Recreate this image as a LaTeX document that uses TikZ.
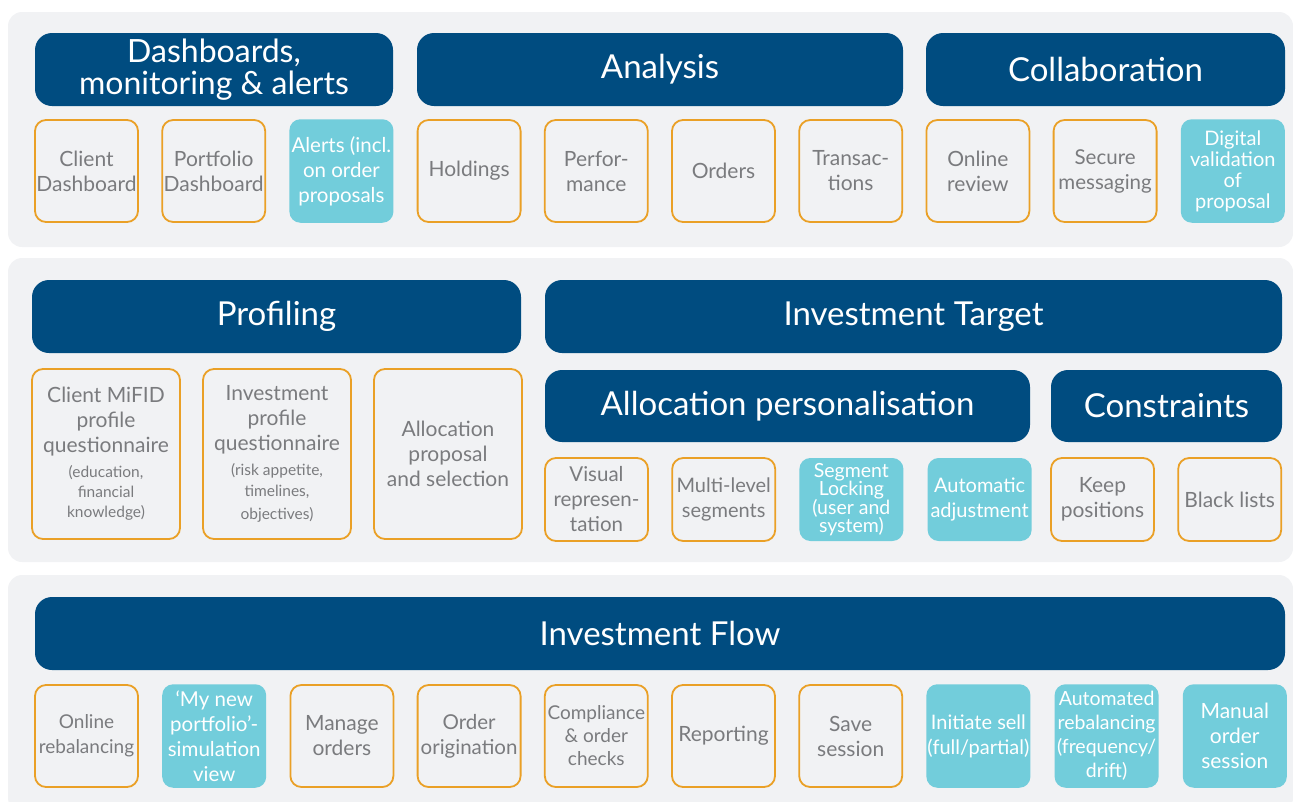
\documentclass[tikz,border=0pt]{standalone}
\usepackage{fontspec}
\setmainfont{Lato}
\usetikzlibrary{positioning}

\definecolor{navy}{RGB}{0,76,128}
\definecolor{amber}{RGB}{234,160,38}
\definecolor{aqua}{RGB}{114,205,219}
\definecolor{panelgray}{RGB}{241,242,244}
\definecolor{txtgray}{RGB}{122,123,126}

\newcommand{\fs}[2]{\fontsize{#1}{#2}\selectfont}
\newcommand{\smalltxt}{\fs{15.5}{20}}

\begin{document}
\begin{tikzpicture}[
  x=1pt,y=-1pt,
  node distance=14pt and 24.2pt,
  panel/.style={fill=panelgray,rounded corners=14pt},
  head/.style={fill=navy,text=white,rounded corners=17pt,align=center,anchor=north west,
    minimum height=73pt,inner sep=2pt,outer sep=0pt,font=\fs{33}{34}},
  item/.style={draw=amber,line width=1.8pt,fill=panelgray,rounded corners=11pt,text=txtgray,
    align=center,minimum width=103pt,minimum height=102pt,inner sep=1pt,outer sep=0pt,font=\fs{21}{25}},
  new/.style={item,draw=none,fill=aqua,text=white,minimum width=104pt,minimum height=103.5pt},
  short/.style={minimum height=83pt},
  tall/.style={minimum width=148pt,minimum height=170pt}
]
\useasboundingbox (0,0) rectangle (1293,801);

% background bands
\fill[panel] (8,12) rectangle (1293,247);
\fill[panel] (8,258) rectangle (1293,562);
\fill[panel] (8,575) rectangle (1293,812);

% --- top band
\node[head,minimum width=358pt,font=\fs{32}{32}] (dash) at (35,33) {Dashboards,\\monitoring \& alerts};
\node[head,minimum width=486pt] (analysis) at (417,33) {Analysis};
\node[head,minimum width=359pt] (collab) at (926,33) {Collaboration};

\node[item,below=14pt of dash.south west,anchor=north west] (clientdash) {Client\\Dashboard};
\node[item,right=of clientdash] (portdash) {Portfolio\\Dashboard};
\node[new,right=of portdash,font=\fs{20.5}{25}] (alerts) {Alerts (incl.\\on order\\proposals};
\node[item,right=of alerts] (holdings) {Holdings};
\node[item,right=of holdings] (perf) {Perfor-\\mance};
\node[item,right=of perf] (orders) {Orders};
\node[item,right=of orders] (trans) {Transac-\\tions};
\node[item,right=of trans] (review) {Online\\review};
\node[item,right=of review,font=\fs{20.5}{25}] (messaging) {Secure\\messaging};
\node[new,right=of messaging,font=\fs{20}{21}] (validation) {Digital\\validation\\of\\proposal};

% --- middle band
\node[head,minimum width=489pt] (profiling) at (32,280) {Profiling};
\node[head,minimum width=737pt] (target) at (545,280) {Investment Target};
\node[head,minimum width=485pt,minimum height=72pt] (alloc) at (545,370) {Allocation personalisation};
\node[head,minimum width=231pt,minimum height=72pt] (constr) at (1051,370) {Constraints};

\node[item,tall,below=16pt of profiling.south west,anchor=north west] (mifid)
  {Client MiFID\\profile\\questionnaire\\\smalltxt (education,\\[-5pt]\smalltxt financial\\[-5pt]\smalltxt knowledge)};
\node[item,tall,right=23pt of mifid] (invprofile)
  {Investment\\profile\\questionnaire\\\smalltxt (risk appetite,\\[-4pt]\smalltxt timelines,\\[-2pt]\smalltxt objectives)};
\node[item,tall,right=23pt of invprofile] (allocprop) {Allocation\\proposal\\and selection};

\node[item,short,below=16pt of alloc.south west,anchor=north west,font=\fs{20.5}{25}] (visual) {Visual\\represen-\\tation};
\node[item,short,right=of visual,font=\fs{20}{25}] (multilevel) {Multi-level\\segments};
\node[new,short,right=of multilevel,font=\fs{19.5}{18}] (locking) {Segment\\Locking\\(user and\\system)};
\node[new,short,right=of locking,font=\fs{20}{25}] (autoadj) {Automatic\\adjustment};
\node[item,short,below=16pt of constr.south west,anchor=north west] (keep) {Keep\\positions};
\node[item,short,right=of keep] (blacklist) {Black lists};

% --- bottom band
\node[head,minimum width=1250pt] (flow) at (35,597) {Investment Flow};

\node[item,below=15pt of flow.south west,anchor=north west,font=\fs{19}{25}] (rebal) {Online\\rebalancing};
\node[new,right=of rebal,font=\fs{20.5}{25}] (simview) {‘My new\\portfolio’-\\simulation\\view};
\node[item,right=of simview] (manage) {Manage\\orders};
\node[item,right=of manage,font=\fs{20.5}{25}] (origination) {Order\\origination};
\node[item,right=of origination,font=\fs{19}{23}] (compliance) {Compliance\\\& order\\checks};
\node[item,right=of compliance] (reporting) {Reporting};
\node[item,right=of reporting] (save) {Save\\session};
\node[new,right=of save,font=\fs{20}{25}] (sell) {Initiate sell\\(full/partial)};
\node[new,right=of sell,font=\fs{19.5}{24}] (autorebal) {Automated\\rebalancing\\(frequency/\\drift)};
\node[new,right=of autorebal,font=\fs{21}{25}] (manual) {Manual\\order\\session};
\end{tikzpicture}
\end{document}
